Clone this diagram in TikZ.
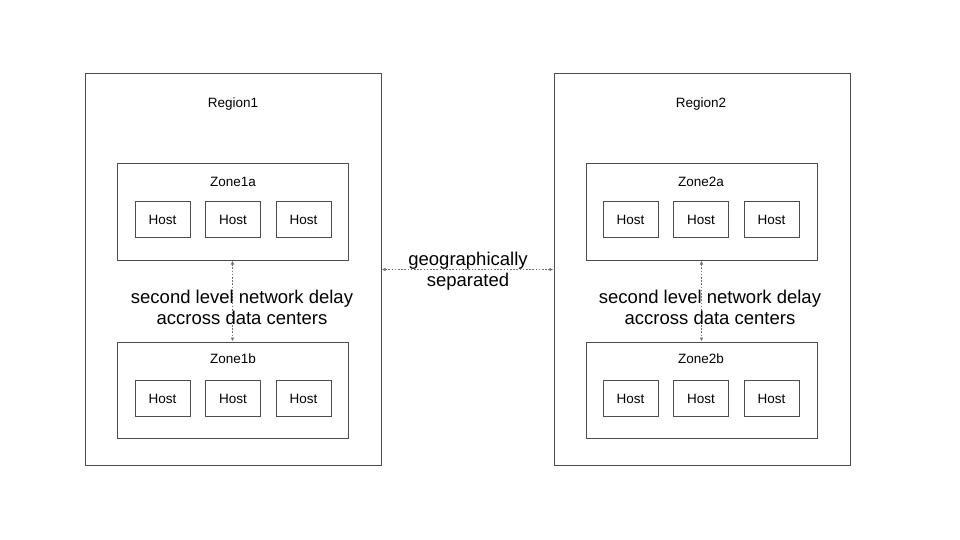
\documentclass[tikz,border=0pt]{standalone}
\usepackage{fontspec}
\setmainfont{Liberation Sans}
\usetikzlibrary{positioning,arrows.meta}

\begin{document}
\begin{tikzpicture}[
          x=1pt, y=-1pt,
          region-box/.style = {draw=black!70, line width=1pt, minimum width=296pt, minimum height=391pt},
          zone-box/.style = {draw=black!70, line width=1pt, minimum width=231pt, minimum height=96pt},
          host-box/.style = {draw=black!70, line width=1pt, minimum width=55pt, minimum height=36pt, font=\fontsize{13.5}{16}\selectfont},
          lbl/.style = {font=\fontsize{13.5}{16}\selectfont},
          big-lbl/.style = {align=center, font=\fontsize{18.5}{21}\selectfont},
          link/.style = {draw=black!55, line width=0.8pt, dash pattern=on 1.6pt off 1.6pt, {Latex[length=4pt,width=3.5pt]}-{Latex[length=4pt,width=3.5pt]}},
          node distance = 14.5pt
        ]
          \useasboundingbox (0,0) rectangle (960,540);

          % regions
          \node[region-box] (r1) at (233,269.5) {};
          \node[region-box] (r2) at (702,269.5) {};
          \node[lbl] (r1lbl) at (233,104) {Region1};
          \node[lbl] (r2lbl) at (701,104) {Region2};

          % zones
          \node[zone-box] (z1a) at (232.5,212) {};
          \node[zone-box] (z1b) at (232.5,390) {};
          \node[zone-box] (z2a) at (701.5,212) {};
          \node[zone-box] (z2b) at (701.5,390) {};
          \node[lbl] at (233,182) {Zone1a};
          \node[lbl] at (233,359) {Zone1b};
          \node[lbl] at (701,182) {Zone2a};
          \node[lbl] at (701,359) {Zone2b};

          % hosts
          \node[host-box] (h1a2) at (233,219.5) {Host};
          \node[host-box,left=of h1a2] (h1a1) {Host};
          \node[host-box,right=of h1a2] (h1a3) {Host};
          \node[host-box] (h1b2) at (233,398.5) {Host};
          \node[host-box,left=of h1b2] (h1b1) {Host};
          \node[host-box,right=of h1b2] (h1b3) {Host};
          \node[host-box] (h2a2) at (701,219.5) {Host};
          \node[host-box,left=of h2a2] (h2a1) {Host};
          \node[host-box,right=of h2a2] (h2a3) {Host};
          \node[host-box] (h2b2) at (701,398.5) {Host};
          \node[host-box,left=of h2b2] (h2b1) {Host};
          \node[host-box,right=of h2b2] (h2b3) {Host};

          \draw[link] (z1a.south) -- (z1b.north);
          \draw[link] (z2a.south) -- (z2b.north);
          \draw[link] (r1.east) -- (r2.west);

          \node[big-lbl] (d1) at (242,307) {second level network delay\\accross data centers};
          \node[big-lbl] (d2) at (710,307) {second level network delay\\accross data centers};
          \node[big-lbl] (geo) at (468,271) {geographically\\separated};
        \end{tikzpicture}
\end{document}
